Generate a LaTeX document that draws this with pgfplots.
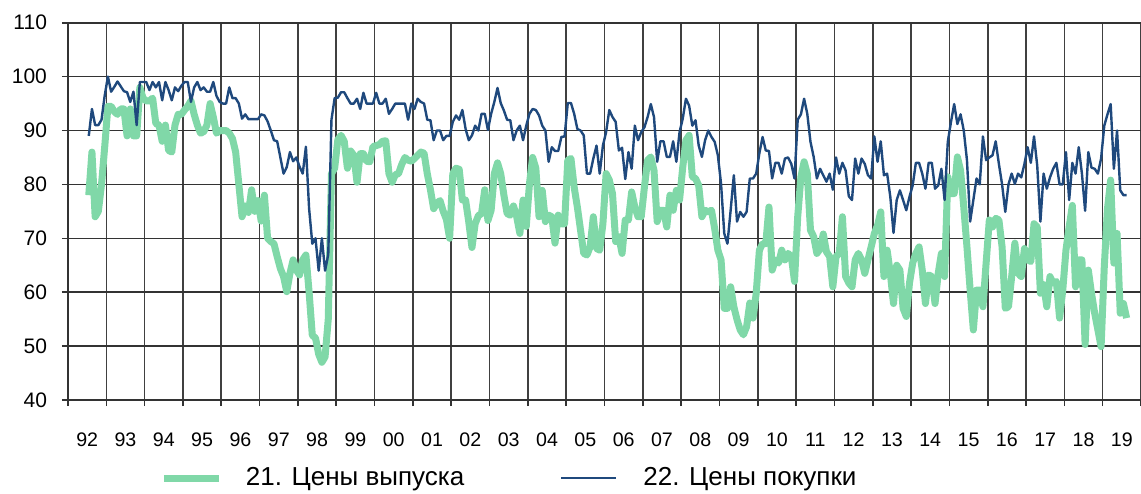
\documentclass[border=0pt]{standalone}
\usepackage{fontspec}
\setmainfont{Liberation Sans}
\usepackage{pgfplots}
\pgfplotsset{compat=1.18}
\definecolor{outgreen}{RGB}{128,216,168}
\definecolor{inblue}{RGB}{31,73,125}
\begin{document}
\begin{tikzpicture}
\useasboundingbox (0,0) rectangle (570.5pt,246.5pt);
\begin{axis}[
  at={(34pt,46.5pt)}, anchor=south west,
  scale only axis, width=536.5pt, height=188.65pt,
  xmin=0, xmax=336, ymin=40, ymax=110,
  axis x line*=bottom, axis y line*=left,
  axis line style={-, line width=0.9pt, black!80},
  xtick={6,18,...,330},
  xticklabels={92,93,94,95,96,97,98,99,00,01,02,03,04,05,06,07,08,09,10,11,12,13,14,15,16,17,18,19},
  minor xtick={0,12,...,336},
  every major x tick/.append style={draw=none},
  ytick={40,50,...,110},
  tick align=outside, major tick length=3pt, minor tick length=3pt,
  tick style={black!80, line width=0.8pt},
  xmajorgrids=false, xminorgrids=true, ymajorgrids=true,
  major grid style={black!80, line width=0.8pt},
  minor grid style={black!75, line width=0.8pt},
  /pgf/number format/assume math mode=true,
  yticklabel style={font=\fontsize{10.5}{12}\selectfont, xshift=-4pt},
  xticklabel style={font=\fontsize{9.8}{11}\selectfont, yshift=-10pt},
  legend columns=2,
  legend style={at={(0.0857,-0.207)}, anchor=west, draw=none, fill=none, inner sep=0pt,
    font=\fontsize{13}{15}\selectfont,
    /tikz/every even column/.append style={column sep=46pt}},
  legend image code/.code={\draw[#1, line cap=butt] (0pt,0pt) -- (27.5pt,0pt); \path[draw=none] (0pt,0pt) -- (39pt,0pt);},
]
\addplot[outgreen, line width=3.5pt, line join=round] table[x index=0, y index=1] {
6.5 78
7.5 86
8.5 74
9.5 75
10.5 80
11.5 87
12.5 94.5
13.5 94.5
14.5 93.5
15.5 93
16.5 94
17.5 94
18.5 89
19.5 94
20.5 89
21.5 89
22.5 98
23.5 96
24.5 95.5
25.5 95.5
26.5 96
27.5 91.3
28.5 91
29.5 88
30.5 91
31.5 86.3
32.5 86
33.5 91
34.5 93
35.5 93
36.5 93.8
37.5 94.5
38.5 95.5
39.5 93
40.5 91
41.5 89.5
42.5 89.8
43.5 91
44.5 95
45.5 92.5
46.5 89.5
47.5 90
48.5 90
49.5 90
50.5 89.5
51.5 88.5
52.5 86
53.5 80
54.5 74
55.5 76
56.5 74.8
57.5 79
58.5 75
59.5 77
60.5 73.2
61.5 78
62.5 70
63.5 69.4
64.5 69
65.5 66.6
66.5 64.4
67.5 62.9
68.5 60.1
69.5 63.5
70.5 66
71.5 64.1
72.5 63.2
73.5 66
74.5 66.9
75.5 60
76.5 52
77.5 51.5
78.5 48.5
79.5 47
80.5 48
81.5 55
82.5 82
83.5 83
84.5 88.3
85.5 89.1
86.5 88
87.5 83
88.5 86.2
89.5 85.4
90.5 80.4
91.5 85.7
92.5 85.7
93.5 84.3
94.5 84.2
95.5 87
96.5 87.2
97.5 87.4
98.5 88
99.5 88.1
100.5 82
101.5 80.4
102.5 81.8
103.5 82
104.5 83.7
105.5 85
106.5 84.5
107.5 84.3
108.5 84.8
109.5 85.4
110.5 86
111.5 85.8
112.5 82
113.5 79
114.5 75.5
115.5 76.5
116.5 77
117.5 75
118.5 73.5
119.5 70
120.5 82
121.5 83
122.5 82.8
123.5 77.1
124.5 77.1
125.5 73
126.5 68.3
127.5 72.7
128.5 74.2
129.5 74.6
130.5 79
131.5 73.3
132.5 75.2
133.5 82
134.5 84
135.5 82
136.5 78
137.5 74.6
138.5 74.3
139.5 76
140.5 74
141.5 70.9
142.5 77.1
143.5 72.2
144.5 80.1
145.5 85
146.5 83
147.5 74
148.5 78.9
149.5 73.1
150.5 74.3
151.5 74
152.5 69.1
153.5 74.3
154.5 72.7
155.5 72.7
156.5 84.5
157.5 84.8
158.5 79.5
159.5 75.8
160.5 71.5
161.5 67.2
162.5 66.9
163.5 68.4
164.5 74
165.5 68.1
166.5 67.8
167.5 72.7
168.5 82
169.5 80.8
170.5 78.3
171.5 69.4
172.5 70.3
173.5 67.2
174.5 73.4
175.5 73.4
176.5 78.6
177.5 75.8
178.5 74
179.5 74
180.5 79.5
181.5 84.5
182.5 85.1
183.5 82.6
184.5 73.1
185.5 75.2
186.5 75.2
187.5 72.1
188.5 78
189.5 75.2
190.5 78.9
191.5 77.1
192.5 83.2
193.5 88.2
194.5 89.1
195.5 81.4
196.5 81.1
197.5 79.8
198.5 74
199.5 75.2
200.5 74.9
201.5 75.2
202.5 71.8
203.5 67.8
204.5 66
205.5 57
206.5 57
207.5 61
208.5 57.3
209.5 54.9
210.5 53
211.5 52.1
212.5 53.6
213.5 58
214.5 55.2
215.5 59.8
216.5 67.8
217.5 69
218.5 69
219.5 75.8
220.5 64.1
221.5 66
222.5 65.4
223.5 67.8
224.5 66
225.5 67.2
226.5 66.6
227.5 62
228.5 74
229.5 81.4
230.5 84.2
231.5 82
232.5 71.5
233.5 70.3
234.5 67.2
235.5 68
236.5 70.8
237.5 67.5
238.5 66.6
239.5 61
240.5 66.6
241.5 67.2
242.5 74
243.5 62.9
244.5 61.7
245.5 61
246.5 66
247.5 67.2
248.5 66
249.5 63.5
250.5 66
251.5 68.4
252.5 70.9
253.5 72.4
254.5 74.9
255.5 62.9
256.5 67.8
257.5 63.5
258.5 57.9
259.5 65
260.5 64.1
261.5 57
262.5 55.5
263.5 61.7
264.5 65.4
265.5 67.2
266.5 68.4
267.5 64.1
268.5 57.9
269.5 63.2
270.5 62.9
271.5 57.9
272.5 63.5
273.5 67.2
274.5 62.9
275.5 81.4
276.5 78.3
277.5 78.3
278.5 85.1
279.5 82.6
280.5 75.8
281.5 68.4
282.5 60.4
283.5 53
284.5 60.4
285.5 60.4
286.5 57.3
287.5 65.4
288.5 73.4
289.5 72.1
290.5 73.7
291.5 73.4
292.5 68.4
293.5 57
294.5 57.3
295.5 62.9
296.5 69.1
297.5 63.5
298.5 62.9
299.5 68.1
300.5 66
301.5 65.7
302.5 72.7
303.5 72.1
304.5 59.8
305.5 61.4
306.5 57.3
307.5 62.9
308.5 61.7
309.5 62
310.5 55.2
311.5 60.4
312.5 67.8
313.5 72.1
314.5 76.1
315.5 61
316.5 66
317.5 66
318.5 50.3
319.5 64.1
320.5 59.8
321.5 56.1
322.5 53
323.5 49.9
324.5 64.7
325.5 75.5
326.5 80.8
327.5 65.4
328.5 70.9
329.5 56.1
330.5 57.9
331.5 55.2
};
\addlegendentry{21. Цены выпуска}
\addplot[inblue, line width=1.2pt, line join=round] table[x index=0, y index=1] {
6.5 89
7.5 94
8.5 91
9.5 91
10.5 92
11.5 96.5
12.5 100
13.5 97.2
14.5 98.1
15.5 99.1
16.5 98.2
17.5 97.3
18.5 97.1
19.5 95.3
20.5 97.2
21.5 91
22.5 99
23.5 99
24.5 99
25.5 97.5
26.5 99
27.5 98
28.5 99
29.5 95.6
30.5 99
31.5 97.5
32.5 95.6
33.5 98
34.5 97.3
35.5 98.3
36.5 99
37.5 99
38.5 95.3
39.5 98
40.5 99
41.5 97.5
42.5 98
43.5 97.2
44.5 97.2
45.5 99
46.5 96.4
47.5 95.3
48.5 95
49.5 95
50.5 98
51.5 96
52.5 96
53.5 95
54.5 92.2
55.5 93
56.5 92.1
57.5 92.1
58.5 92.1
59.5 92.1
60.5 93
61.5 92.8
62.5 91.7
63.5 90
64.5 88.2
65.5 88
66.5 85
67.5 82
68.5 83.2
69.5 86
70.5 84.3
71.5 85
72.5 83.3
73.5 82
74.5 87
75.5 75.5
76.5 69
77.5 70
78.5 64
79.5 70
80.5 64
81.5 67
82.5 92
83.5 96
84.5 96.1
85.5 97.1
86.5 97.1
87.5 96
88.5 95
89.5 95
90.5 95.9
91.5 94
92.5 97
93.5 95
94.5 95
95.5 95
96.5 97
97.5 95
98.5 95
99.5 95.9
100.5 93.1
101.5 94
102.5 95
103.5 95
104.5 95
105.5 95
106.5 92
107.5 95
108.5 94
109.5 95.9
110.5 95.3
111.5 95
112.5 92
113.5 91.9
114.5 88.2
115.5 90
116.5 90
117.5 88.2
118.5 89
119.5 89
120.5 91.6
121.5 92.8
122.5 92
123.5 93.8
124.5 90.3
125.5 88.2
126.5 89.1
127.5 90.9
128.5 90
129.5 93.1
130.5 93.1
131.5 90.1
132.5 93.1
133.5 95.3
134.5 97.9
135.5 95.1
136.5 93.7
137.5 92
138.5 91.9
139.5 88.2
140.5 90
141.5 90.9
142.5 88.2
143.5 90.9
144.5 93.1
145.5 94
146.5 93.8
147.5 92.8
148.5 90.9
149.5 90
150.5 84.2
151.5 86.9
152.5 86.2
153.5 86.2
154.5 88.8
155.5 88.9
156.5 95.1
157.5 95.1
158.5 93.1
159.5 90.3
160.5 90
161.5 89.1
162.5 82
163.5 82
164.5 84.8
165.5 87.2
166.5 82
167.5 87.2
168.5 89.7
169.5 93.8
170.5 92.5
171.5 91.6
172.5 86.3
173.5 86.8
174.5 81
175.5 86
176.5 82.9
177.5 90.9
178.5 88.2
179.5 89.7
180.5 90.6
181.5 92.5
182.5 94.9
183.5 92.5
184.5 84.2
185.5 88
186.5 88
187.5 85.1
188.5 85.1
189.5 88
190.5 84.2
191.5 89.7
192.5 92.2
193.5 95.9
194.5 94.6
195.5 90.9
196.5 91.9
197.5 87.2
198.5 85.1
199.5 88.2
200.5 90
201.5 88.8
202.5 87.9
203.5 85.4
204.5 80.1
205.5 70.9
206.5 69
207.5 75.2
208.5 81.7
209.5 73.1
210.5 74.9
211.5 74
212.5 74.9
213.5 81.1
214.5 81.1
215.5 82
216.5 85.8
217.5 88.8
218.5 86.3
219.5 86.2
220.5 81.1
221.5 84
222.5 84
223.5 82
224.5 84.8
225.5 85
226.5 83.8
227.5 81.1
228.5 92
229.5 93
230.5 95.9
231.5 93.1
232.5 87.9
233.5 85.1
234.5 81.1
235.5 82.9
236.5 81.7
237.5 80.5
238.5 82
239.5 79
240.5 85
241.5 82
242.5 84
243.5 82.6
244.5 77.8
245.5 77.1
246.5 84.8
247.5 82
248.5 84.8
249.5 83.8
250.5 81.7
251.5 81.1
252.5 88.9
253.5 84.2
254.5 88
255.5 81.7
256.5 82
257.5 77.7
258.5 71
259.5 77.1
260.5 78.9
261.5 77.1
262.5 75.2
263.5 77.7
264.5 79.8
265.5 84
266.5 84
267.5 82
268.5 79.2
269.5 84
270.5 84
271.5 79.2
272.5 79.8
273.5 82.9
274.5 77.1
275.5 87.9
276.5 91.6
277.5 94.9
278.5 91.2
279.5 93
280.5 90
281.5 84.5
282.5 73.1
283.5 77.1
284.5 81.1
285.5 80
286.5 88.9
287.5 84.5
288.5 85
289.5 85.4
290.5 88
291.5 83.8
292.5 80
293.5 74.9
294.5 80
295.5 82
296.5 80.1
297.5 82
298.5 81.3
299.5 83.8
300.5 86.9
301.5 84
302.5 88.9
303.5 83.5
304.5 73.1
305.5 82
306.5 79.2
307.5 81.3
308.5 82.9
309.5 84
310.5 80
311.5 80
312.5 86
313.5 77.1
314.5 84
315.5 82
316.5 86.9
317.5 82
318.5 75.1
319.5 86
320.5 83.1
321.5 82.9
322.5 82
323.5 84.8
324.5 90.9
325.5 93
326.5 94.9
327.5 82.9
328.5 90
329.5 78.9
330.5 78
331.5 78
};
\addlegendentry{22. Цены покупки}
\end{axis}
\end{tikzpicture}
\end{document}
